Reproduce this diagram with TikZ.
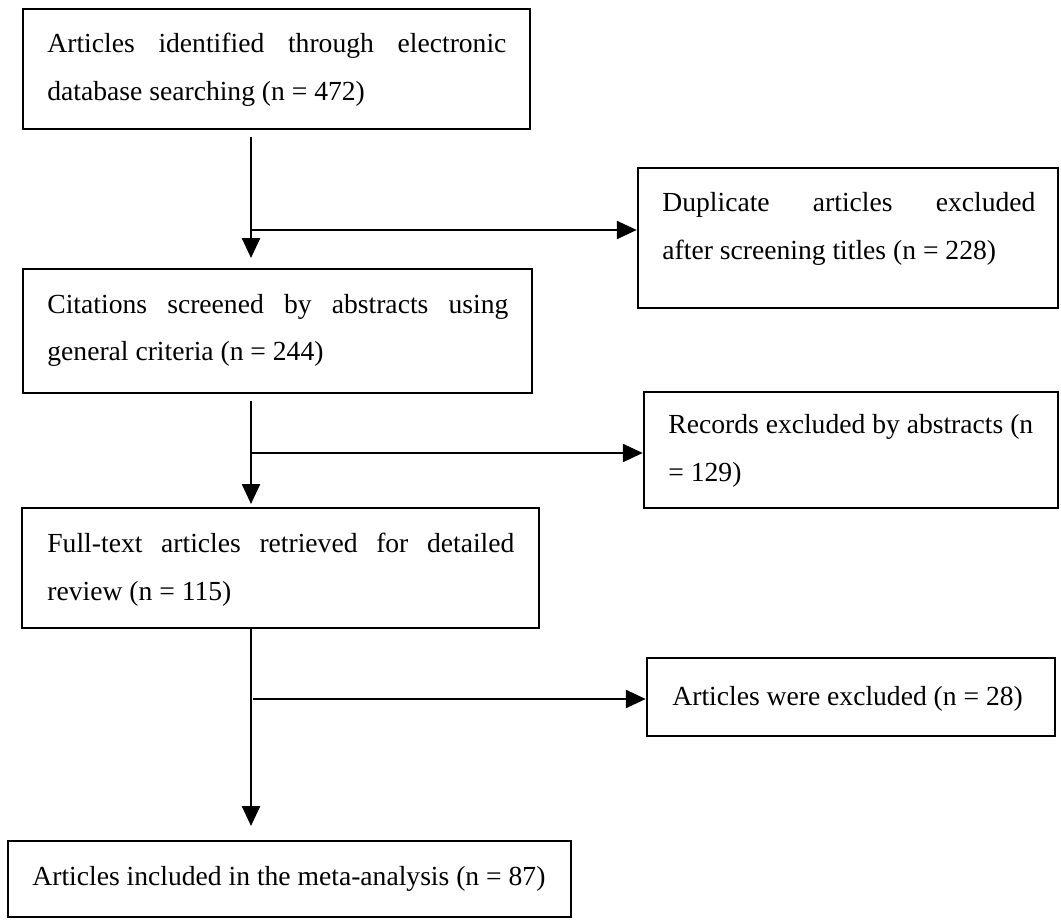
\documentclass[tikz,border=0pt]{standalone}
\usepackage{fontspec}
\setmainfont{Liberation Serif}
\usetikzlibrary{arrows.meta,fit}
\begin{document}
\begin{tikzpicture}[x=0.5pt,y=-0.5pt,
  box/.style={draw, line width=1.25pt, inner sep=0pt, rectangle},
  txt/.style={inner sep=0pt, anchor=base west, font=\fontsize{13.8pt}{24pt}\selectfont},
  arr/.style={line width=1.25pt, -{Triangle[length=10pt,width=9pt]}}]
\useasboundingbox (0,0) rectangle (1061,920);
% boxes
\node[box, fit={(23,9)(530,129)}] (b1) {};
\node[box, fit={(638,168)(1058,308)}] (b2) {};
\node[box, fit={(23,269)(532,393)}] (b3) {};
\node[box, fit={(644,392)(1058,508)}] (b4) {};
\node[box, fit={(22,508)(539,628)}] (b5) {};
\node[box, fit={(647,658)(1055,736)}] (b6) {};
\node[box, fit={(8,841)(571,917)}] (b7) {};
% texts
\node[txt] (t1) at (47,53) {\parbox[t]{229.5pt}{\makebox[\linewidth][s]{Articles identified through electronic}\\database searching (n = 472)}};
\node[txt] (t2) at (662,212) {\parbox[t]{186.5pt}{\makebox[\linewidth][s]{Duplicate articles excluded}\\after screening titles (n = 228)}};
\node[txt] (t3) at (47,313) {\parbox[t]{230.5pt}{\makebox[\linewidth][s]{Citations screened by abstracts using}\\general criteria (n = 244)}};
\node[txt] (t4) at (668,433) {\parbox[t]{195pt}{Records excluded by abstracts (n\\= 129)}};
\node[txt] (t5) at (47,552) {\parbox[t]{233.5pt}{\makebox[\linewidth][s]{Full-text articles retrieved for detailed}\\review (n = 115)}};
\node[txt] (t6) at (672,705) {Articles were excluded (n = 28)};
\node[txt] (t7) at (32,885) {Articles included in the meta-analysis (n = 87)};
% connectors
\coordinate (s1) at (251,137);
\coordinate (e1) at (251,258);
\coordinate (j1) at (251,230);
\draw[arr] (s1) -- (e1);
\draw[arr] (j1) -- (j1 -| b2.west);
\coordinate (s2) at (251,401);
\coordinate (e2) at (251,504);
\coordinate (j2) at (251,453);
\draw[arr] (s2) -- (e2);
\draw[arr] (j2) -- (j2 -| b4.west);
\coordinate (e3) at (251,826);
\coordinate (j3) at (253,699);
\draw[arr] (b5.south -| e3) -- (e3);
\draw[arr] (j3) -- (j3 -| b6.west);
\end{tikzpicture}
\end{document}
